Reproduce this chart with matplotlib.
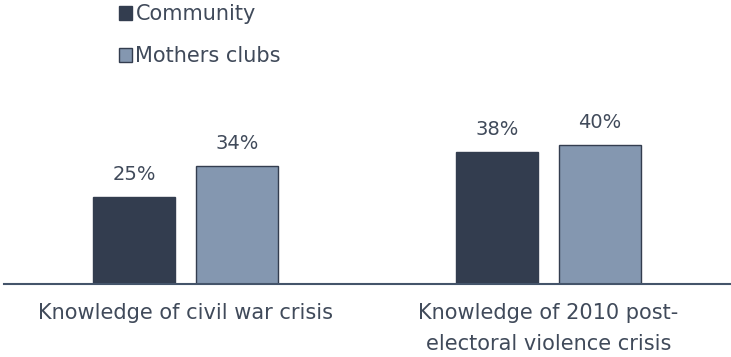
import numpy as np
import matplotlib.pyplot as plt

categories = ['Knowledge of civil war crisis', 'Knowledge of 2010 post-\nelectoral violence crisis']
community = [25, 38]
mothers_clubs = [34, 40]

dark = '#333d4f'
light = '#8497b0'
text_color = '#404a5a'

plt.rcParams['font.family'] = ['DejaVu Sans']

fig = plt.figure(figsize=(7.31, 3.57), dpi=100)
ax = fig.add_axes([4 / 731, 73 / 357, 726 / 731, 174 / 357])

x = np.arange(len(categories))
w = 0.226
off = 0.142
b1 = ax.bar(x - off, community, w, color=dark, edgecolor=dark, linewidth=1, label='Community')
b2 = ax.bar(x + off, mothers_clubs, w, color=light, edgecolor=dark, linewidth=1, label='Mothers clubs')

for bars in (b1, b2):
    for rect in bars:
        h = rect.get_height()
        ax.annotate(f'{h:.0f}%', (rect.get_x() + rect.get_width() / 2, h),
                    xytext=(0, 9), textcoords='offset points',
                    ha='center', va='bottom', fontsize=14, color=text_color)

ax.set_xlim(-0.5, 1.5)
ax.set_ylim(0, 50)
ax.set_xticks(x)
ax.set_xticklabels(categories, fontsize=15, color=text_color, linespacing=1.65)
ax.tick_params(axis='x', length=0, pad=14)
ax.set_yticks([])
for s in ['top', 'right', 'left']:
    ax.spines[s].set_visible(False)
ax.spines['bottom'].set_color('#44546a')
ax.spines['bottom'].set_linewidth(1.5)

fig.legend(handles=[b1, b2], loc='upper left', bbox_to_anchor=(100 / 731, 1.04),
           frameon=False, fontsize=15, handlelength=0.65, handleheight=0.65,
           handletextpad=0.15, labelspacing=1.05, labelcolor=text_color)

fig.savefig('out.png', dpi=100)
